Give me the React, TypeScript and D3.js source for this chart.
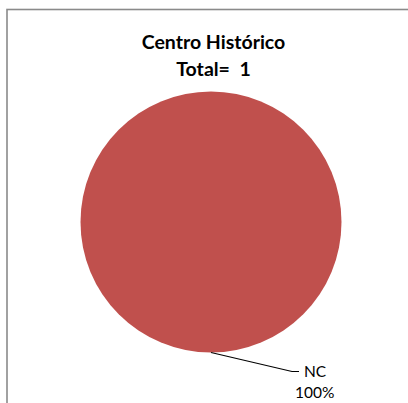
import { arc, pie, PieArcDatum } from "d3";

const categories = ["NC"];
const values = [1];
const title = ["Centro Histórico", "Total=  1"];

interface Slice {
    label: string
    value: number
}

const data: Slice[] = categories.map((label, i) => ({ label, value: values[i] }));
const total = values.reduce((a, b) => a + b, 0);

export default function App() {
    const width = 408;
    const height = 403;
    const cx = 211;
    const cy = 222;
    const radius = 130.5;

    const pieGen = pie<Slice>().value((d) => d.value).sort(null);
    const arcs = pieGen(data);
    const arcGen = arc<PieArcDatum<Slice>>().innerRadius(0).outerRadius(radius);

    const font = "Lato, 'Open Sans', sans-serif";

    return (
        <svg
            width={width}
            height={height}
            style={{ position: "absolute", left: 0, top: 0, background: "#fff" }}
        >
            <rect x={7} y={9.5} width={420} height={420} fill="none" stroke="#8a8a8a" strokeWidth={1.6} />
            <text x={213.5} y={48.5} textAnchor="middle" fontFamily={font} fontWeight="bold" fontSize={19.5}>
                {title[0]}
            </text>
            <text x={213.5} y={76} textAnchor="middle" fontFamily={font} fontWeight="bold" fontSize={19.5} style={{ whiteSpace: "pre" }}>
                {title[1]}
            </text>
            <g transform={`translate(${cx}, ${cy})`}>
                {arcs.map((a) => {
                    const mid = (a.startAngle + a.endAngle) / 2;
                    const sx = Math.sin(mid) * radius;
                    const sy = -Math.cos(mid) * radius;
                    const ex = sx + 81;
                    const ey = sy + 19;
                    const pct = Math.round((a.data.value / total) * 100);
                    return (
                        <g key={a.data.label}>
                            {a.endAngle - a.startAngle >= Math.PI * 2 - 1e-6 ? (
                                <circle r={radius} fill="#C0504D" />
                            ) : (
                                <path d={arcGen(a) || ""} fill="#C0504D" stroke="#fff" />
                            )}
                            <polyline
                                points={`${sx},${sy} ${ex},${ey} ${ex + 7},${ey}`}
                                fill="none"
                                stroke="#000"
                                strokeWidth={1.2}
                            />
                            <text x={ex + 12} y={ey + 5} fontFamily={font} fontSize={15.5}>
                                {a.data.label}
                            </text>
                            <text x={ex + 3} y={ey + 26.5} fontFamily={font} fontSize={15.5}>
                                {`${pct}%`}
                            </text>
                        </g>
                    );
                })}
            </g>
        </svg>
    );
}
